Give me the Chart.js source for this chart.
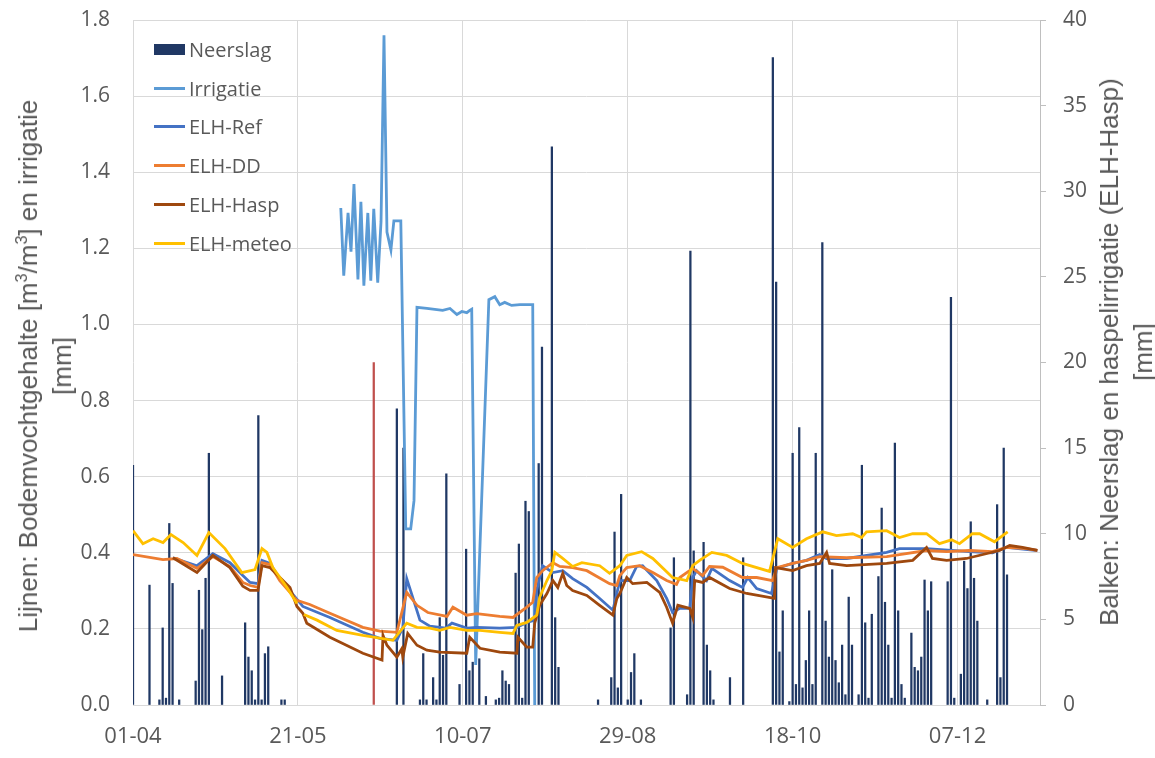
<!DOCTYPE html>
<html>
<head>
<meta charset="utf-8">
<script src="https://cdn.jsdelivr.net/npm/chart.js@4"></script>
<style>
  html, body { margin: 0; padding: 0; background: #fff; }
  #wrap { position: relative; width: 1155px; height: 758px; }
  #myChart { position: absolute; left: 0; top: 0; }
  .astitel {
    position: absolute; white-space: nowrap; text-align: center;
    font-family: "Liberation Sans Narrow", "Liberation Sans", sans-serif;
    font-size: 26px; line-height: 34px; color: #595959;
    transform: translate(-50%, -50%) rotate(-90deg);
  }
  .astitel sup { font-size: 0.62em; line-height: 0; }
  #legenda { position: absolute; left: 154px; top: 30px; font-family: "Open Sans", sans-serif; font-size: 20px; color: #595959; }
  .rij { display: flex; align-items: center; height: 38.8px; }
  .sym { width: 31px; margin-right: 4px; }
</style>
</head>
<body>
<div id="wrap">
  <canvas id="myChart" width="1155" height="758"></canvas>
  <div class="astitel" style="left:45px; top:366px;">Lijnen: Bodemvochtgehalte [m<sup>3</sup>/m<sup>3</sup>] en irrigatie<br>[mm]</div>
  <div class="astitel" style="left:1126px; top:352px;">Balken: Neerslag en haspelirrigatie (ELH-Hasp)<br>[mm]</div>
  <div id="legenda"></div>
</div>
<script>
// dagen sinds 01-04
const startDatum = Date.UTC(2021, 3, 1);
const xTicks = [0, 50, 100, 150, 200, 250];

// Neerslag (mm, rechteras)
const neerslagDag = [0, 5, 8, 9, 10, 11, 12, 14, 19, 20, 21, 22, 23, 27, 34, 35, 36, 37, 38, 39, 40, 41, 45, 46,
  80, 82, 87, 88, 89, 91, 92, 93, 94, 95, 99, 101, 102, 103, 105, 107, 110, 111, 112, 113, 114, 116, 117, 118, 119, 120, 123, 124, 127, 128, 129,
  141, 145, 146, 147, 148, 150, 151, 152, 154, 163, 164, 168, 169, 170, 173, 174, 175, 176, 181, 185,
  194, 195, 196, 197, 199, 200, 201, 202, 203, 204, 205, 206, 207, 209, 210, 211, 212, 213, 214, 215, 216, 217, 218, 220, 221, 222, 223, 224,
  226, 227, 228, 229, 230, 231, 232, 233, 234, 236, 237, 238, 239, 240, 241, 242, 247, 248, 249, 251, 252, 253, 254, 255, 256, 259, 262, 263, 264, 265];
const neerslagMm = [14.0, 7.0, 0.3, 4.5, 0.4, 10.6, 7.1, 0.3, 1.4, 6.7, 4.4, 7.4, 14.7, 1.7, 4.8, 2.8, 2.0, 0.3, 16.9, 0.3, 3.0, 3.4, 0.3, 0.3,
  17.3, 15.0, 0.3, 3.0, 0.3, 1.6, 0.3, 5.1, 2.9, 13.5, 1.2, 9.1, 2.0, 2.5, 2.7, 0.5, 0.3, 0.4, 2.0, 1.4, 1.2, 7.7, 9.4, 0.4, 11.9, 11.3, 14.1, 20.9, 32.6, 5.1, 2.2,
  0.3, 1.6, 10.1, 1.0, 12.3, 0.3, 1.9, 3.0, 0.3, 4.5, 8.6, 0.6, 26.5, 9.0, 9.5, 3.5, 2.0, 0.3, 1.6, 8.6,
  37.8, 24.7, 3.1, 5.5, 0.2, 14.7, 1.2, 16.2, 1.0, 2.6, 5.5, 1.2, 14.7, 27.0, 4.9, 2.8, 7.9, 2.6, 1.3, 3.5, 0.6, 6.3, 3.5, 0.6, 14.0, 4.8, 0.4, 5.3,
  7.5, 11.5, 6.0, 3.5, 0.4, 15.3, 5.5, 1.2, 0.4, 4.2, 2.2, 2.0, 2.8, 7.3, 5.5, 7.2, 7.2, 23.8, 0.4, 1.8, 8.4, 6.8, 10.7, 7.4, 4.9, 0.3, 11.7, 1.6, 15.0, 7.6];

// Haspelirrigatie ELH-Hasp (mm, rechteras)
const haspDag = [73];
const haspMm = [20];

// Irrigatie (linkeras)
const irrigatieDag = [63.0, 63.9, 65.2, 66.1, 67.0, 68.2, 69.1, 70.0, 71.2, 72.1, 73.0, 74.2, 75.2, 76.1, 77.0, 78.2, 79.1, 81.2,
  82.7, 84.2, 85.2, 86.1, 89.1, 93.9, 96.1, 98.2, 99.7, 101.2, 102.1, 102.7, 103.9, 107.9, 109.7, 111.2, 112.7, 114.8, 117.3, 121.2, 121.8];
const irrigatieWaarde = [1.306, 1.128, 1.293, 1.191, 1.369, 1.118, 1.322, 1.102, 1.293, 1.115, 1.304, 1.110, 1.270, 1.760, 1.243, 1.196, 1.272, 1.272,
  0.463, 0.463, 0.537, 1.045, 1.042, 1.037, 1.042, 1.026, 1.034, 1.031, 1.037, 1.040, 0.105, 1.065, 1.073, 1.052, 1.058, 1.050, 1.052, 1.052, 0.0];

// ELH-Ref
const refDag = [12.1, 19.4, 24.2, 29.4, 33.3, 35.5, 37.9, 39.1, 41.5, 44.5, 51.5, 59.7, 69.7, 74.8, 80.0, 81.8, 83.0, 87.0, 90.0, 94.8, 96.7,
  101.2, 104.2, 111.2, 116.4, 119.4, 121.8, 122.4, 124.2, 127.3, 130.3, 133.3, 137.6, 141.5, 145.5, 147.6, 150.6, 152.7, 154.5, 158.8, 161.8,
  163.6, 165.8, 168.8, 169.7, 170.9, 173.9, 175.5, 180.9, 184.8, 186.4, 189.1, 193.6, 195.2, 200.0, 204.2, 208.2, 210.3, 216.4, 228.5, 232.4,
  240.6, 253.6, 260.6, 264.8, 274.2];
const refWaarde = [0.387, 0.366, 0.398, 0.374, 0.340, 0.322, 0.319, 0.380, 0.372, 0.332, 0.259, 0.230, 0.191, 0.175, 0.170, 0.204, 0.332, 0.223, 0.207, 0.202, 0.215,
  0.202, 0.204, 0.202, 0.204, 0.217, 0.223, 0.301, 0.366, 0.348, 0.353, 0.332, 0.309, 0.280, 0.249, 0.327, 0.327, 0.364, 0.366, 0.327, 0.280,
  0.243, 0.254, 0.254, 0.335, 0.353, 0.327, 0.359, 0.327, 0.309, 0.335, 0.306, 0.293, 0.359, 0.372, 0.380, 0.395, 0.385, 0.385, 0.401, 0.411,
  0.411, 0.403, 0.400, 0.414, 0.406];

// ELH-DD
const ddDag = [0, 9.1, 13.3, 19.4, 24.2, 29.4, 33.3, 35.5, 37.9, 39.1, 41.5, 44.5, 49.7, 53.6, 59.7, 69.7, 74.8, 80.0, 83.0, 86.1, 89.4, 95.2,
  97.0, 101.2, 104.2, 111.2, 115.2, 119.4, 121.2, 122.4, 124.2, 127.3, 129.4, 133.3, 137.6, 144.5, 146.7, 147.6, 149.7, 153.6, 157.6, 161.8,
  164.8, 165.8, 169.7, 172.7, 174.8, 178.8, 184.8, 189.1, 193.9, 195.2, 200.0, 204.2, 208.2, 216.4, 228.5, 232.4, 240.6, 246.7, 253.6, 260.6,
  264.8, 270.9, 274.2];
const ddWaarde = [0.395, 0.382, 0.385, 0.359, 0.390, 0.364, 0.322, 0.314, 0.309, 0.374, 0.369, 0.327, 0.275, 0.264, 0.241, 0.204, 0.194, 0.191, 0.296, 0.262, 0.243, 0.233,
  0.257, 0.236, 0.240, 0.233, 0.230, 0.257, 0.270, 0.335, 0.353, 0.374, 0.364, 0.361, 0.353, 0.319, 0.314, 0.340, 0.361, 0.366, 0.348, 0.327,
  0.317, 0.335, 0.359, 0.340, 0.364, 0.362, 0.335, 0.335, 0.327, 0.361, 0.372, 0.380, 0.390, 0.387, 0.390, 0.395, 0.406, 0.403, 0.406, 0.403,
  0.414, 0.411, 0.406];

// ELH-Hasp
const haspLijnDag = [12.1, 19.4, 24.2, 29.4, 33.3, 35.5, 37.9, 39.1, 41.5, 47.6, 49.7, 51.5, 52.7, 59.7, 69.7, 75.5, 75.8, 77.0, 80.0, 81.5, 81.8,
  83.3, 86.1, 89.1, 93.0, 101.2, 102.1, 105.2, 111.2, 116.4, 116.7, 119.4, 121.2, 121.8, 123.3, 125.5, 127.3, 128.8, 130.3, 131.5, 133.3,
  137.6, 141.5, 145.5, 146.7, 147.6, 149.7, 151.5, 155.8, 159.7, 161.8, 163.6, 165.2, 168.8, 169.7, 170.3, 172.7, 174.8, 180.9, 186.1,
  194.5, 194.8, 200.0, 204.2, 208.2, 210.3, 211.2, 216.4, 228.5, 236.4, 240.6, 242.4, 246.7, 252.7, 262.7, 265.8, 269.7, 274.2];
const haspLijnWaarde = [0.387, 0.348, 0.393, 0.361, 0.312, 0.301, 0.301, 0.366, 0.361, 0.309, 0.259, 0.241, 0.215, 0.178, 0.136, 0.118, 0.183, 0.157, 0.126, 0.148, 0.126,
  0.188, 0.157, 0.144, 0.139, 0.136, 0.178, 0.149, 0.139, 0.136, 0.178, 0.152, 0.152, 0.215, 0.262, 0.293, 0.327, 0.309, 0.346, 0.314, 0.301,
  0.288, 0.262, 0.236, 0.280, 0.293, 0.335, 0.319, 0.322, 0.296, 0.257, 0.215, 0.262, 0.254, 0.230, 0.327, 0.322, 0.335, 0.306, 0.293,
  0.280, 0.361, 0.353, 0.366, 0.372, 0.401, 0.372, 0.366, 0.372, 0.380, 0.414, 0.385, 0.380, 0.385, 0.406, 0.419, 0.414, 0.406];

// ELH-meteo (null = ontbrekende data)
const meteoDag = [0, 3.0, 6.1, 9.1, 11.5, 15.2, 19.4, 23.0, 27.9, 33.0, 37.0, 39.1, 40.6, 42.4, 46.7, 49.7, 50.8, 51.8, 55.8, 61.8, 69.7, 78.8,
  83.0, 86.1, 90.0, 93.0, 96.1, 101.2, 105.2, 111.2, 115.2, 116.4, 119.4, 122.4, 123.3, 125.5, 127.0, 127.9, 130.0, 133.3, 136.1, 141.5,
  144.5, 147.6, 149.7, 154.2, 157.6, 163.6, 167.9, 169.7, 171.8, 175.5, 180.0, 184.8, 193.0, 195.5, 200.0, 204.2, 209.1, 213.3, 218.2,
  220.9, 222.4, 228.5, 232.4, 236.4, 240.6, 244.5, 248.2, 250.6, 254.5, 256.7, 261.2, 265.2];
const meteoWaarde = [0.458, 0.424, 0.437, 0.427, 0.448, 0.427, 0.393, 0.453, 0.411, 0.348, 0.356, 0.411, 0.401, 0.361, 0.309, 0.267, null, 0.238, 0.223, 0.196, 0.183, 0.170,
  0.215, 0.204, 0.202, 0.196, 0.204, 0.196, 0.196, 0.191, 0.188, 0.209, 0.217, 0.236, 0.283, 0.327, 0.353, 0.401, 0.387, 0.364, 0.374, 0.366,
  0.346, 0.366, 0.393, 0.403, 0.385, 0.335, 0.327, 0.366, 0.380, 0.401, 0.393, 0.372, 0.351, 0.437, 0.414, 0.437, 0.455, 0.445, 0.450,
  0.440, 0.455, 0.458, 0.440, 0.450, 0.450, 0.424, 0.434, 0.424, 0.450, 0.450, 0.429, 0.455];

const punten = (xs, ys) => xs.map((x, i) => ({ x: x, y: ys[i] }));
const pad = n => String(n).padStart(2, '0');
const dagLabel = d => {
  const t = new Date(startDatum + d * 86400000);
  return pad(t.getUTCDate()) + '-' + pad(t.getUTCMonth() + 1);
};

const tekstKleur = '#595959';
const rasterKleur = '#D9D9D9';
const tickFont = { family: 'Open Sans', size: 21 };

const lijn = (label, data, kleur, order) => ({
  type: 'line', label: label, data: data, yAxisID: 'y', borderColor: kleur, backgroundColor: kleur,
  borderWidth: 2.8, pointRadius: 0, tension: 0, spanGaps: false, order: order
});

const datasets = [
  { type: 'bar', label: 'Neerslag', data: punten(neerslagDag, neerslagMm), yAxisID: 'y1', backgroundColor: '#203864',
    barThickness: 1.6, grouped: false, order: 10 },
  { type: 'bar', label: 'ELH-Hasp irrigatie', data: punten(haspDag, haspMm), yAxisID: 'y1', backgroundColor: '#C0504D',
    barThickness: 1.6, grouped: false, order: 9, inLegenda: false },
  lijn('Irrigatie', punten(irrigatieDag, irrigatieWaarde), '#5B9BD5', 5),
  lijn('ELH-Ref', punten(refDag, refWaarde), '#4472C4', 4),
  lijn('ELH-DD', punten(ddDag, ddWaarde), '#ED7D31', 3),
  lijn('ELH-Hasp', punten(haspLijnDag, haspLijnWaarde), '#9E480E', 2),
  lijn('ELH-meteo', punten(meteoDag, meteoWaarde), '#FFC000', 1)
];

// vaste plotruimte: de labels mogen buiten de plot vallen
const vastY = breedte => s => { s.width = breedte; s.paddingTop = 0; s.paddingBottom = 0; };

const ctx = document.getElementById('myChart').getContext('2d');
new Chart(ctx, {
  type: 'line',
  data: { datasets: datasets },
  options: {
    responsive: false,
    animation: false,
    devicePixelRatio: 1,
    layout: { padding: { top: 20, left: 0, right: 0, bottom: 0 } },
    plugins: { legend: { display: false }, tooltip: { enabled: false } },
    scales: {
      x: {
        type: 'linear', min: 0, max: 275, offset: false,
        afterBuildTicks: s => { s.ticks = xTicks.map(v => ({ value: v })); },
        afterFit: s => { s.height = 53; s.paddingLeft = 0; s.paddingRight = 0; },
        ticks: { callback: v => dagLabel(v), color: tekstKleur, font: { family: 'Open Sans', size: 22 }, padding: 19, maxRotation: 0, autoSkip: false },
        grid: { color: rasterKleur, drawTicks: false, offset: false },
        border: { color: rasterKleur }
      },
      y: {
        position: 'left', min: 0, max: 1.8,
        afterFit: vastY(133),
        ticks: { stepSize: 0.2, callback: v => v.toFixed(1), color: tekstKleur, font: tickFont, padding: 23 },
        grid: { color: rasterKleur, drawTicks: false },
        border: { display: false }
      },
      y1: {
        position: 'right', min: 0, max: 40,
        afterFit: vastY(115),
        ticks: { stepSize: 5, color: tekstKleur, font: tickFont, padding: 17 },
        grid: { drawOnChartArea: false, drawTicks: true, tickLength: 6, color: '#BFBFBF' },
        border: { display: true, color: '#BFBFBF' }
      }
    }
  }
});

// legenda als html, zelfde volgorde als in Excel
const legenda = document.getElementById('legenda');
datasets.filter(d => d.inLegenda !== false).forEach(d => {
  const rij = document.createElement('div');
  rij.className = 'rij';
  const sym = document.createElement('div');
  sym.className = 'sym';
  sym.style.background = d.type === 'bar' ? d.backgroundColor : d.borderColor;
  sym.style.height = d.type === 'bar' ? '11px' : '3px';
  const txt = document.createElement('span');
  txt.textContent = d.label;
  rij.appendChild(sym);
  rij.appendChild(txt);
  legenda.appendChild(rij);
});
</script>
</body>
</html>
